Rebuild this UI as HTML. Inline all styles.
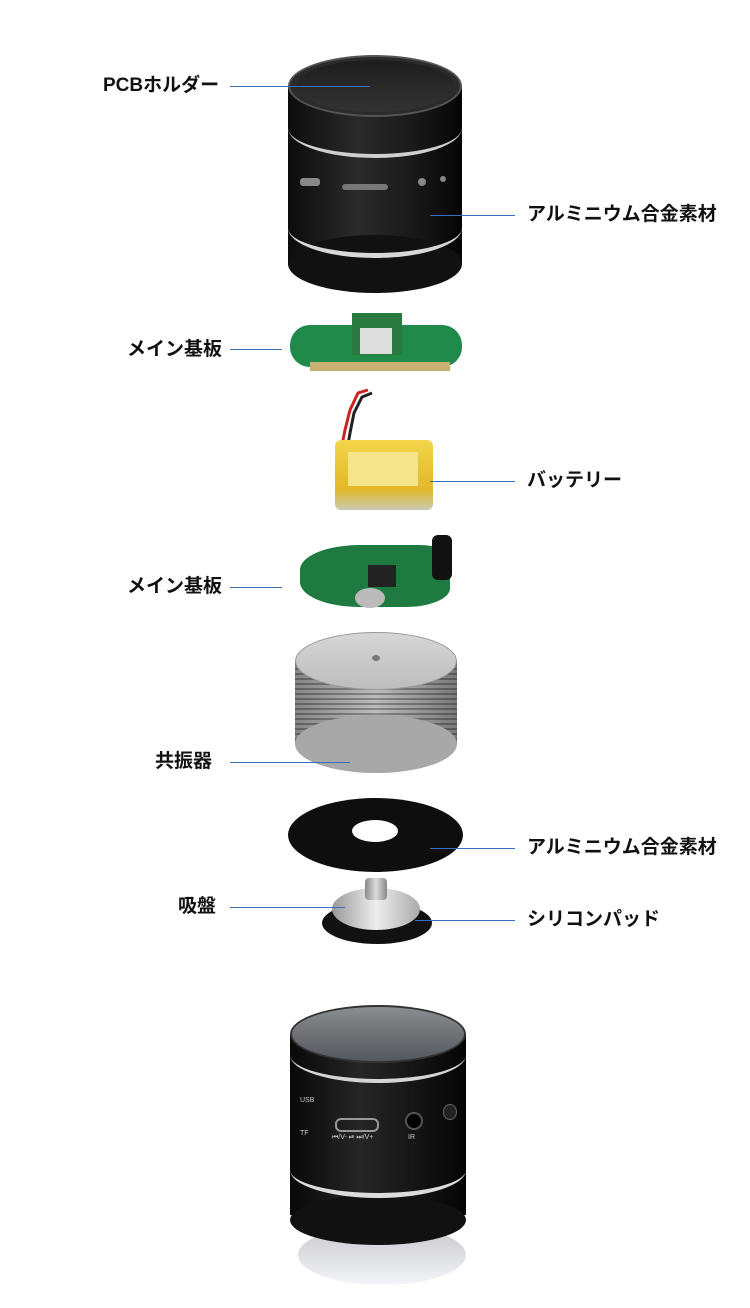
<!DOCTYPE html>
<html><head><meta charset="utf-8"><style>
body{margin:0;width:750px;height:1308px;background:#fff;position:relative;overflow:hidden;font-family:"Liberation Sans","Noto Sans CJK JP",sans-serif}
.a{position:absolute}
.lb{position:absolute;font-weight:bold;font-size:19px;color:#111;line-height:20px;white-space:nowrap}
.ln{position:absolute;height:1px;background:#3a6fb8}
.el{position:absolute;border-radius:50%}
</style></head><body>

<!-- top cylinder -->
<div class="a" style="left:288px;top:85px;width:174px;height:180px;background:linear-gradient(90deg,#0c0c0c,#2a2a2a 40%,#1a1a1a 70%,#050505)"></div>
<div class="el" style="left:288px;top:235px;width:174px;height:58px;background:#111"></div>
<div class="a" style="left:288px;top:128px;width:174px;height:30px;border-bottom:4px solid #cfcfcf;border-radius:0 0 50% 50%/0 0 100% 100%;box-sizing:border-box"></div>
<div class="a" style="left:288px;top:228px;width:174px;height:30px;border-bottom:5px solid #d8d8d8;border-radius:0 0 50% 50%/0 0 100% 100%;box-sizing:border-box"></div>
<div class="el" style="left:288px;top:55px;width:174px;height:62px;background:#2b2b2b;border:2px solid #555;box-sizing:border-box"></div>
<div class="el" style="left:296px;top:60px;width:158px;height:52px;background:linear-gradient(180deg,#1d1d1d,#333)"></div>
<div class="a" style="left:300px;top:178px;width:20px;height:8px;background:#888;border-radius:3px"></div>
<div class="a" style="left:342px;top:184px;width:46px;height:6px;background:#777;border-radius:3px"></div>
<div class="el" style="left:418px;top:178px;width:8px;height:8px;background:#888"></div>
<div class="el" style="left:440px;top:176px;width:6px;height:6px;background:#888"></div>

<div class="lb" style="left:103px;top:76px">PCBホルダー</div>
<div class="ln" style="left:230px;top:86px;width:140px"></div>
<div class="lb" style="left:527px;top:205px">アルミニウム合金素材</div>
<div class="ln" style="left:430px;top:215px;width:85px"></div>

<!-- board 1 -->
<div class="a" style="left:290px;top:325px;width:172px;height:42px;background:#1f8a4a;border-radius:20px"></div>
<div class="a" style="left:352px;top:313px;width:50px;height:42px;background:#2a7a40"></div>
<div class="a" style="left:360px;top:328px;width:32px;height:26px;background:#ddd"></div>
<div class="a" style="left:310px;top:362px;width:140px;height:9px;background:#c8b070"></div>
<div class="lb" style="left:127px;top:340px">メイン基板</div>
<div class="ln" style="left:230px;top:349px;width:52px"></div>

<!-- battery -->
<svg class="a" style="left:320px;top:385px" width="60" height="65"><path d="M48 5 L38 8 L30 25 L25 45 L22 60" stroke="#c22" stroke-width="3" fill="none"/><path d="M52 8 L42 12 L34 28 L30 48 L28 60" stroke="#222" stroke-width="3" fill="none"/></svg>
<div class="a" style="left:335px;top:440px;width:98px;height:70px;background:linear-gradient(180deg,#f3d54a,#e2b92a 70%,#c9c9b0);border-radius:6px"></div>
<div class="a" style="left:348px;top:452px;width:70px;height:34px;background:#f4e58a"></div>
<div class="lb" style="left:527px;top:471px">バッテリー</div>
<div class="ln" style="left:430px;top:481px;width:85px"></div>

<!-- board 2 -->
<div class="a" style="left:300px;top:545px;width:150px;height:62px;background:#1e7a40;border-radius:40% 20% 30% 40%"></div>
<div class="a" style="left:368px;top:565px;width:28px;height:22px;background:#222"></div>
<div class="el" style="left:355px;top:588px;width:30px;height:20px;background:#bbb"></div>
<div class="a" style="left:432px;top:535px;width:20px;height:45px;background:#111;border-radius:6px"></div>
<div class="lb" style="left:127px;top:577px">メイン基板</div>
<div class="ln" style="left:230px;top:587px;width:52px"></div>

<!-- resonator -->
<div class="a" style="left:295px;top:660px;width:162px;height:85px;background:repeating-linear-gradient(180deg,#c9c9c9 0 3px,#8f8f8f 3px 5px),linear-gradient(90deg,#aaa,#eee,#999);background-blend-mode:multiply"></div>
<div class="el" style="left:295px;top:715px;width:162px;height:58px;background:#a8a8a8"></div>
<div class="el" style="left:295px;top:632px;width:162px;height:58px;background:linear-gradient(180deg,#d6d6d6,#bdbdbd);border:1px solid #999;box-sizing:border-box"></div>
<div class="el" style="left:372px;top:655px;width:8px;height:6px;background:#777"></div>
<div class="lb" style="left:155px;top:752px">共振器</div>
<div class="ln" style="left:230px;top:762px;width:120px"></div>

<!-- disk -->
<div class="el" style="left:288px;top:798px;width:175px;height:74px;background:#0e0e0e"></div>
<div class="el" style="left:352px;top:820px;width:46px;height:22px;background:#fff"></div>
<div class="lb" style="left:527px;top:838px">アルミニウム合金素材</div>
<div class="ln" style="left:430px;top:848px;width:85px"></div>

<!-- suction -->
<div class="el" style="left:322px;top:902px;width:110px;height:42px;background:#111"></div>
<div class="el" style="left:332px;top:888px;width:88px;height:42px;background:linear-gradient(90deg,#999,#eee,#aaa)"></div>
<div class="a" style="left:365px;top:878px;width:22px;height:22px;background:linear-gradient(90deg,#888,#ddd,#888);border-radius:4px"></div>
<div class="lb" style="left:178px;top:897px">吸盤</div>
<div class="ln" style="left:230px;top:907px;width:115px"></div>
<div class="lb" style="left:527px;top:910px">シリコンパッド</div>
<div class="ln" style="left:415px;top:920px;width:100px"></div>

<!-- bottom product -->
<div class="el" style="left:298px;top:1225px;width:168px;height:60px;background:linear-gradient(180deg,#c8c8cc,#f4f5f8)"></div>
<div class="a" style="left:290px;top:1035px;width:176px;height:180px;background:linear-gradient(90deg,#080808,#262626 40%,#151515 70%,#040404)"></div>
<div class="el" style="left:290px;top:1195px;width:176px;height:50px;background:#111"></div>
<div class="a" style="left:290px;top:1055px;width:176px;height:28px;border-bottom:4px solid #d5d5d5;border-radius:0 0 50% 50%/0 0 100% 100%;box-sizing:border-box"></div>
<div class="a" style="left:290px;top:1170px;width:176px;height:28px;border-bottom:5px solid #dcdcdc;border-radius:0 0 50% 50%/0 0 100% 100%;box-sizing:border-box"></div>
<div class="el" style="left:290px;top:1005px;width:176px;height:58px;background:linear-gradient(180deg,#8a8c90,#55585c);border:2px solid #333;box-sizing:border-box"></div>
<div class="a" style="left:335px;top:1118px;width:40px;height:10px;border:2px solid #999;border-radius:6px"></div>
<div class="el" style="left:405px;top:1112px;width:14px;height:14px;background:#000;border:2px solid #555"></div>
<div class="el" style="left:443px;top:1104px;width:12px;height:14px;background:#222;border:1px solid #666"></div>
<div class="a" style="left:300px;top:1097px;color:#ccc;font-size:7px">USB</div>
<div class="a" style="left:300px;top:1130px;color:#ccc;font-size:7px">TF</div>
<div class="a" style="left:332px;top:1134px;color:#ccc;font-size:7px">⏮/V- ⏯ ⏭/V+</div>
<div class="a" style="left:408px;top:1134px;color:#ccc;font-size:7px">IR</div>
</body></html>
